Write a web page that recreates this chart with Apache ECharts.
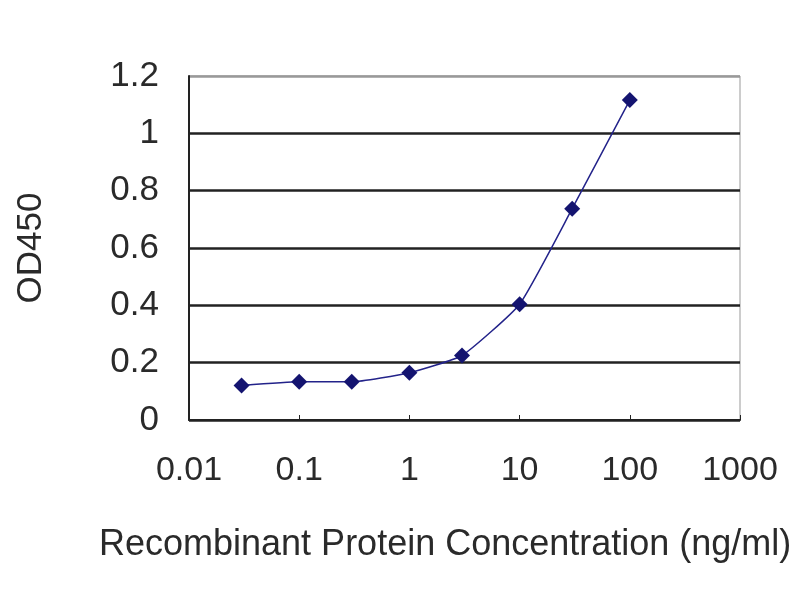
<!DOCTYPE html>
<html lang="en">
<head>
    <meta charset="UTF-8">
    <title>OD450 vs concentration</title>
    <script src="https://cdn.jsdelivr.net/npm/echarts@6/dist/echarts.min.js"></script>
    <style>
        html, body { margin: 0; padding: 0; background: #fff; }
        #chart { width: 800px; height: 600px; }
    </style>
</head>
<body>
    <div id="chart"></div>
    <script>
        // 数据：浓度 (ng/ml) 与 OD450 读数
        const concentrations = [0.03, 0.1, 0.3, 1, 3, 10, 30, 100];
        const od450 = [0.12, 0.133, 0.133, 0.165, 0.225, 0.404, 0.737, 1.116];
        const xTitle = 'Recombinant Protein Concentration (ng/ml)';
        const yTitle = 'OD450';

        const font = "'Liberation Sans', Arial, sans-serif";
        const chart = echarts.init(document.getElementById('chart'));

        const option = {
            animation: false,
            title: {
                text: xTitle,
                left: 94,
                top: 522,
                textStyle: { fontFamily: font, fontSize: 36, fontWeight: 'normal', color: '#2a2a2a' }
            },
            grid: {
                left: 189, right: 60, top: 76, bottom: 180,
                show: true, borderColor: '#999', borderWidth: 1
            },
            xAxis: {
                type: 'log',
                logBase: 10,
                min: 0.01,
                max: 1000,
                axisLine: { show: true, lineStyle: { color: '#222', width: 2 } },
                axisTick: { show: true, inside: true, length: 5, lineStyle: { color: '#222' } },
                minorTick: { show: false },
                splitLine: { show: false },
                axisLabel: {
                    fontFamily: font, fontSize: 34, color: '#2a2a2a', margin: 34,
                    formatter: v => String(+v.toPrecision(3))
                }
            },
            yAxis: {
                type: 'value',
                min: 0,
                max: 1.2,
                interval: 0.2,
                name: yTitle,
                nameLocation: 'middle',
                nameGap: 140,
                nameTextStyle: { fontFamily: font, fontSize: 35, color: '#2a2a2a' },
                axisLine: { show: true, lineStyle: { color: '#222', width: 2 } },
                axisTick: { show: false },
                splitLine: {
                    show: true,
                    lineStyle: { color: ['#222', '#222', '#222', '#222', '#222', '#222', '#999'], width: 2.5 }
                },
                axisLabel: {
                    fontFamily: font, fontSize: 35, color: '#2a2a2a', margin: 30,
                    formatter: v => String(+v.toFixed(1))
                }
            },
            series: [{
                type: 'line',
                data: concentrations.map((c, i) => [c, od450[i]]),
                smooth: 0.15,
                symbol: 'diamond',
                symbolSize: 16,
                lineStyle: { color: '#23238a', width: 1.5 },
                itemStyle: { color: '#141470' }
            }]
        };

        chart.setOption(option);
    </script>
</body>
</html>
